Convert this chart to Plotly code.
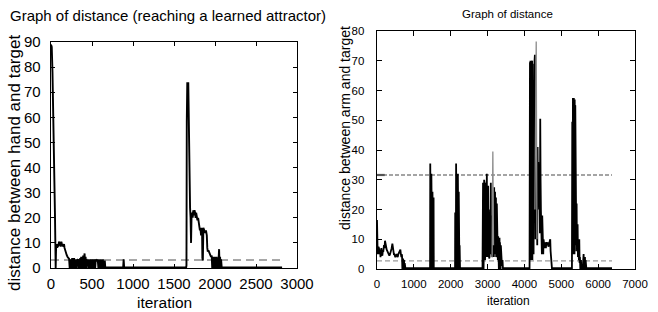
import plotly.graph_objects as go

# ---------------- data ----------------
left_title = "Graph of distance (reaching a learned attractor)"
left_ylabel = "distance between hand and target"
right_title = "Graph of distance"
right_ylabel = "distance between arm and target"
xlabel = "iteration"

left_xticks = [0, 500, 1000, 1500, 2000, 2500, 3000]
left_yticks = [0, 10, 20, 30, 40, 50, 60, 70, 80, 90]
right_xticks = [0, 1000, 2000, 3000, 4000, 5000, 6000, 7000]
right_yticks = [0, 10, 20, 30, 40, 50, 60, 70, 80]

left_iter = [0, 9, 18, 25, 31, 37, 43, 48, 53, 57, 62, 69, 76, 82, 89, 95, 101, 108, 114, 120,
             126, 130, 136, 142, 150, 159, 165, 171, 181, 191, 201, 211, 221,
             228, 234, 240, 246, 252, 258, 264, 270, 276, 282, 288, 294, 300, 306, 312, 318, 325, 333,
             338, 344, 350, 356, 362, 368, 374, 380, 386, 392, 398, 404, 410, 416, 422, 428, 434, 440, 448,
             455, 461, 467, 473, 479, 485, 491, 497, 503, 509, 515, 521, 527, 533, 539, 545, 552, 562, 570,
             578, 584, 590, 596, 602, 608, 614, 620, 626, 632, 638, 644, 650, 656, 662,
             880, 886, 892,
             1648, 1652, 1656, 1662, 1668, 1674, 1680, 1686, 1690, 1696, 1702, 1708, 1714, 1722, 1728,
             1735, 1742, 1750, 1757, 1764, 1770, 1778, 1786, 1794, 1800, 1808, 1816, 1822, 1830, 1836,
             1842, 1846, 1852, 1858, 1864, 1872, 1880, 1890, 1900, 1906, 1912, 1920, 1928, 1936, 1944,
             1952, 1960, 1966, 1972, 1978, 1984, 1990, 1996, 2002, 2008, 2014, 2020, 2026, 2032, 2038,
             2044, 2050, 2056, 2062, 2068, 2074, 2082, 2818]
left_dist = [89, 88, 78, 68, 55, 45, 33, 22, 10, 0, 8, 9.5, 8, 9, 8.5, 10, 10.5, 9, 9.5, 8.5,
             10.5, 10, 9, 9.5, 8.5, 9.5, 8, 7, 6, 5.2, 4.5, 4, 3.6,
             0, 3.5, 0, 3, 0, 4, 0.5, 3.5, 0, 4, 0, 3, 0, 3.5, 0, 3.5, 3, 3.5,
             0, 3.5, 0, 4, 0, 4.5, 0, 4, 0, 5, 0, 4.5, 5.8, 0, 4.5, 0, 3.5, 3, 3.2,
             0, 3.5, 0, 3, 0, 3.5, 0, 3, 0, 3.5, 0, 3, 0, 3.5, 0, 3, 3.2, 3, 3.3,
             0, 3.5, 0, 3, 0, 3.5, 0, 3, 0, 3.5, 0, 3, 0, 3, 0.2,
             0.2, 3.5, 0.2,
             0.2, 1, 58, 74, 70, 74, 52, 55, 26, 24, 20, 10, 21, 22, 20,
             23, 21, 23, 22, 20, 22, 21, 19, 20, 18, 17, 15, 16, 13, 15,
             16, 4, 3, 16, 15.5, 15, 14, 15, 13, 8, 6.5, 7, 6, 5.5, 5,
             4.5, 5, 0, 4.5, 0, 4, 0, 4.5, 0, 4, 0, 4.5, 0, 4, 0,
             5, 7.5, 0, 4.5, 0, 3.5, 0.2, 0.2]
left_threshold = 3.2
left_threshold_span = [0, 2818]

right_iter = [0, 9, 18, 27, 40, 54, 68, 82, 95, 105, 118, 132, 145, 158, 172, 190, 204, 217, 231, 245,
              263, 281, 299, 317, 335, 353, 367, 380, 398, 417, 430, 444, 458, 471, 485, 498, 516, 534,
              548, 562, 580, 598, 616, 634, 648, 661, 670, 679, 688, 697, 706, 715, 724, 733, 742, 752, 770,
              1430, 1440, 1445, 1450, 1455, 1460, 1465, 1470, 1475, 1480, 1485, 1490, 1495, 1500, 1505,
              1510, 1515, 1520, 1525, 1530, 1535, 1540, 1545, 1552,
              2110, 2118, 2122, 2128, 2134, 2140, 2146, 2152, 2158, 2164, 2170, 2176, 2182, 2188, 2194,
              2200, 2206, 2212, 2218, 2224, 2230, 2236, 2242, 2252,
              2855, 2862, 2867, 2872, 2877, 2882, 2887, 2892, 2897, 2902, 2907, 2912, 2917, 2922, 2927,
              2932, 2937, 2943, 2953, 2965, 2980, 2990, 2998, 3006, 3016, 3026, 3034, 3043, 3052, 3061,
              3070, 3079, 3088, 3097, 3106, 3115, 3124, 3161, 3170, 3179, 3185, 3191, 3197, 3203, 3209,
              3215, 3221, 3227, 3233, 3239, 3245, 3251, 3260, 3269, 3278, 3288, 3294, 3300, 3306, 3312,
              3318, 3324, 3330, 3336, 3342, 3348, 3354, 3360, 3369, 3378, 3390, 3405, 3418, 3433,
              4130, 4139, 4150, 4156, 4162, 4168, 4174, 4180, 4186, 4192, 4198, 4204, 4210, 4216, 4222,
              4229, 4239, 4248, 4257, 4266, 4275, 4284, 4293, 4302, 4311, 4320, 4330, 4339, 4348, 4357,
              4366, 4375, 4384, 4393, 4402, 4411, 4420, 4429, 4438, 4447, 4456, 4465, 4474, 4483, 4492,
              4501, 4510, 4519, 4528, 4537, 4546, 4555, 4564, 4573, 4582, 4591, 4600, 4610, 4620, 4630,
              4640, 4650, 4660, 4670, 4680, 4690, 4700, 4710, 4719, 4730, 4746,
              5280, 5289, 5298, 5307, 5316, 5322, 5328, 5334, 5340, 5346, 5352, 5358, 5364, 5370, 5380,
              5389, 5398, 5407, 5416, 5425, 5434, 5443, 5452, 5461, 5470, 5479, 5488, 5497, 5506, 5516,
              5525, 5534, 5545, 5561, 5580, 5590, 5597, 5606, 5615, 5624, 5633, 5642, 5651, 5660, 5679, 6376]
right_dist = [16.5, 10, 5, 5.5, 7.5, 7, 5, 6.5, 4, 7, 7, 5, 4.5, 6, 6, 8, 7, 9.5, 8, 7,
              6.5, 6, 5.5, 5.5, 4.5, 5, 5.5, 6, 7, 8.5, 7, 6, 5, 5, 4.5, 4, 4.5, 5,
              4.5, 4, 5, 5.5, 6, 6.5, 5, 4, 5, 4.5, 0, 3.5, 0, 3, 0, 3, 0, 2, 0.3,
              0.3, 0, 35.5, 2, 34, 0, 35, 3, 32, 0, 32, 1, 31, 0, 26,
              2, 26, 0, 25, 0, 24, 0, 10, 0.3,
              0.3, 0, 19, 0, 18, 3, 35.5, 4, 34, 0, 32, 2, 31, 0, 32,
              3, 30, 0, 26, 2, 11, 0, 8, 0.3,
              0.3, 0, 29, 1, 29, 3, 28, 0, 29, 4, 30, 2, 29, 4, 28,
              3, 29, 4, 20, 5, 32, 4, 20, 5, 28, 4, 12, 3.5, 4, 10,
              20, 6, 29, 5, 18, 4, 5, 8, 4, 27.5, 5, 27, 8, 26, 5,
              25, 7, 24, 4, 23, 6, 22, 5, 15, 3, 11, 1, 11, 0, 10,
              2, 10.5, 0, 9, 1, 9, 0, 8, 2, 5, 1, 3, 0, 0.3,
              0.3, 0, 69.5, 3, 70, 5, 69.5, 3, 70, 4, 69, 5, 70, 3, 69,
              10, 41, 5, 41, 20, 70, 72, 35, 10, 41, 15, 40, 10, 8, 41,
              20, 36, 30, 33, 25, 30, 12, 50.5, 30, 20, 8, 10, 5, 18, 6,
              10, 5, 10, 8, 9, 7, 9, 8, 9, 7, 8.5, 9, 8, 9, 8.5,
              9, 7.5, 9, 8, 9, 9.5, 10, 6, 3, 1, 0.3,
              0.3, 0, 49.5, 5, 57.5, 6, 57, 5, 57.5, 8, 56, 5, 57, 6, 55,
              10, 24, 8, 22, 6, 10, 15, 4, 8, 5, 3, 10, 2, 4, 0,
              2, 3, 0, 0.3, 0, 3, 0, 5, 0, 4, 0, 4, 0, 3, 0.3, 0.3]

right_gray_iter = [3115, 3124, 3143, 3161, None, 4284, 4300, 4320, 4339]
right_gray_dist = [4, 5, 39.5, 8, None, 20, 40, 76.5, 10]

right_thresholds = [31.6, 2.7]
right_threshold_span = [0, 6376]
right_marker_span = [0, 210]

# ---------------- figure ----------------
W, H = 658, 312
FONT = "Liberation Sans, Arial, Helvetica, sans-serif"


def px(x):
    return x / W


def py(y):
    return 1 - y / H


fig = go.Figure()

fig.add_trace(go.Scatter(x=left_threshold_span, y=[left_threshold] * 2, mode="lines",
                         line=dict(color="#8a8a8a", width=1.6, dash="8px,5px"),
                         xaxis="x", yaxis="y", hoverinfo="skip"))
fig.add_trace(go.Scatter(x=left_iter, y=left_dist, mode="lines",
                         line=dict(color="black", width=1.9), xaxis="x", yaxis="y"))

fig.add_trace(go.Scatter(x=right_threshold_span, y=[right_thresholds[0]] * 2, mode="lines",
                         line=dict(color="#4a4a4a", width=1.1, dash="4px,2px"),
                         xaxis="x2", yaxis="y2", hoverinfo="skip"))
fig.add_trace(go.Scatter(x=right_threshold_span, y=[right_thresholds[1]] * 2, mode="lines",
                         line=dict(color="#9a9a9a", width=1.3, dash="5px,3px"),
                         xaxis="x2", yaxis="y2", hoverinfo="skip"))
fig.add_trace(go.Scatter(x=right_marker_span, y=[right_thresholds[0]] * 2, mode="lines",
                         line=dict(color="#555555", width=2.2),
                         xaxis="x2", yaxis="y2", hoverinfo="skip"))
fig.add_trace(go.Scatter(x=right_iter, y=right_dist, mode="lines",
                         line=dict(color="black", width=1.8), xaxis="x2", yaxis="y2"))
fig.add_trace(go.Scatter(x=right_gray_iter, y=right_gray_dist, mode="lines",
                         line=dict(color="#8c8c8c", width=1.3), xaxis="x2", yaxis="y2",
                         connectgaps=False))

axis_common = dict(showline=True, linecolor="black", linewidth=1.3, mirror="allticks",
                   ticks="inside", tickcolor="black", showgrid=False, zeroline=False,
                   automargin=False)

fig.update_layout(
    width=W, height=H, margin=dict(l=0, r=0, t=0, b=0),
    paper_bgcolor="white", plot_bgcolor="white", showlegend=False,
    font=dict(family=FONT, color="black"),
    xaxis=dict(domain=[px(51), px(297)], range=[0, 3000], tickvals=left_xticks,
               ticktext=[str(v) for v in left_xticks], ticklen=4, anchor="y",
               tickfont=dict(size=15), ticklabelstandoff=2, **axis_common),
    yaxis=dict(domain=[py(268), py(42)], range=[0, 90], tickvals=left_yticks,
               ticktext=[str(v) for v in left_yticks], ticklen=4, anchor="x",
               tickfont=dict(size=15), ticklabelstandoff=6, **axis_common),
    xaxis2=dict(domain=[px(377), px(635)], range=[0, 7000], tickvals=right_xticks,
                ticktext=[str(v) for v in right_xticks], ticklen=5, anchor="y2",
                tickfont=dict(size=11.5), ticklabelstandoff=4, **axis_common),
    yaxis2=dict(domain=[py(269), py(31)], range=[0, 80], tickvals=right_yticks,
                ticktext=[str(v) for v in right_yticks], ticklen=5, anchor="x2",
                tickfont=dict(size=11.5), ticklabelstandoff=9, **axis_common),
)

annotations = [
    dict(text=left_title, x=px(168), y=py(15), font=dict(size=15)),
    dict(text=left_ylabel, x=px(14), y=py(163), font=dict(size=17), textangle=-90),
    dict(text=xlabel, x=px(164), y=py(302), font=dict(size=15.5)),
    dict(text=right_title, x=px(507), y=py(14), font=dict(size=11.5)),
    dict(text=right_ylabel, x=px(345), y=py(128), font=dict(size=14), textangle=-90),
    dict(text=xlabel, x=px(508), y=py(301), font=dict(size=12)),
]
for a in annotations:
    a.update(xref="paper", yref="paper", showarrow=False, xanchor="center", yanchor="middle")
fig.update_layout(annotations=annotations)

fig.write_html("out.html", config={"displayModeBar": False, "staticPlot": True},
               post_script="document.body.style.margin='0';document.body.style.padding='0';"
                           "document.body.style.overflow='hidden';")
